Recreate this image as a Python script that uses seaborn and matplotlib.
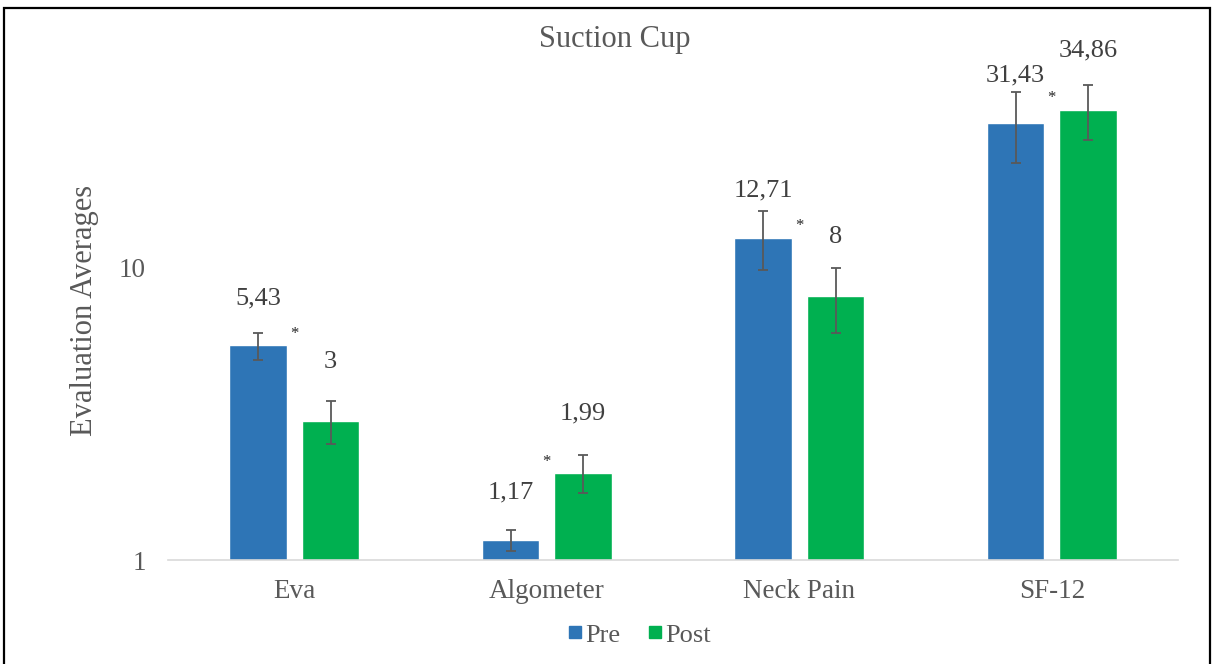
import numpy as np
import pandas as pd
import matplotlib
matplotlib.use("Agg")
import matplotlib.pyplot as plt
from matplotlib.patches import Rectangle
from matplotlib.lines import Line2D
import seaborn as sns

categories = ["Eva", "Algometer", "Neck Pain", "SF-12"]
groups = ["Pre", "Post"]
pre_vals = [5.43, 1.17, 12.71, 31.43]
post_vals = [3, 1.99, 8, 34.86]
pre_err = [0.58, 0.1, 2.9, 8.5]
post_err = [0.5, 0.3, 2.0, 7.5]
significant = [True, True, True, True]

colors = {"Pre": "#2E75B6", "Post": "#00B050"}
text_col = "#595959"

df = pd.DataFrame({
    "category": categories * 2,
    "group": ["Pre"] * 4 + ["Post"] * 4,
    "value": pre_vals + post_vals,
})

sns.set_style("white")
plt.rcParams["font.family"] = ["Liberation Serif", "DejaVu Serif"]

fig = plt.figure(figsize=(12.14, 6.64), dpi=100)
ax = fig.add_axes([0.1384, 0.1566, 0.832, 0.753])

sns.barplot(data=df, x="category", y="value", hue="group", order=categories,
            hue_order=groups, palette=colors, width=0.574, gap=0.21,
            errorbar=None, legend=False, ax=ax, saturation=1)

ax.set_yscale("log")
ax.set_ylim(1, 51.5)
ax.set_xlim(-0.5, 3.5)

# error bars + value labels (comma decimals like the original)
errs = {"Pre": pre_err, "Post": post_err}
vals = {"Pre": pre_vals, "Post": post_vals}
offsets = {"Pre": 34, "Post": 42.5}
for cont, g in zip(ax.containers, groups):
    xs = [b.get_x() + b.get_width() / 2 for b in cont]
    ax.errorbar(xs, vals[g], yerr=errs[g], fmt="none", ecolor=text_col,
                elinewidth=1.3, capsize=3.5, capthick=1.3)
    for x, v in zip(xs, vals[g]):
        ax.annotate(f"{v:g}".replace(".", ","), (x, v), xytext=(0, offsets[g]),
                    textcoords="offset points", ha="center", va="center",
                    fontsize=19, color="#404040")

for i, s in enumerate(significant):
    if s:
        top = max(pre_vals[i], post_vals[i])
        ax.annotate("*", (i, top), xytext=(0, 8), textcoords="offset points",
                    ha="center", va="center", fontsize=12, color="#262626")

for side in ["top", "right", "left"]:
    ax.spines[side].set_visible(False)
ax.spines["bottom"].set_color("#D9D9D9")
ax.spines["bottom"].set_linewidth(1.2)

ax.set_yticks([1, 10])
ax.set_yticklabels(["1", "10"])
ax.yaxis.set_minor_locator(matplotlib.ticker.NullLocator())
ax.tick_params(axis="y", length=0, pad=16, labelsize=19.5, labelcolor=text_col)
ax.tick_params(axis="x", length=0, pad=14, labelsize=19.5, labelcolor=text_col)
ax.set_xlabel("")
ax.set_ylabel("Evaluation Averages", fontsize=22, color=text_col, labelpad=14)

fig.text(0.506, 0.94, "Suction Cup", ha="center", va="center",
         fontsize=22, color=text_col)

handles = [Line2D([], [], marker="s", linestyle="none", markersize=9,
                  markerfacecolor=colors[g], markeredgecolor=colors[g]) for g in groups]
fig.legend(handles, groups, loc="center", bbox_to_anchor=(0.525, 0.044), ncol=2,
           frameon=False, fontsize=19, labelcolor=text_col, handletextpad=0.0,
           columnspacing=0.9, handlelength=0.8)

fig.add_artist(Rectangle((0.0033, -0.02), 0.9934, 1.008, transform=fig.transFigure,
                         fill=False, edgecolor="black", linewidth=1.6))

fig.savefig("out.png", dpi=100)
